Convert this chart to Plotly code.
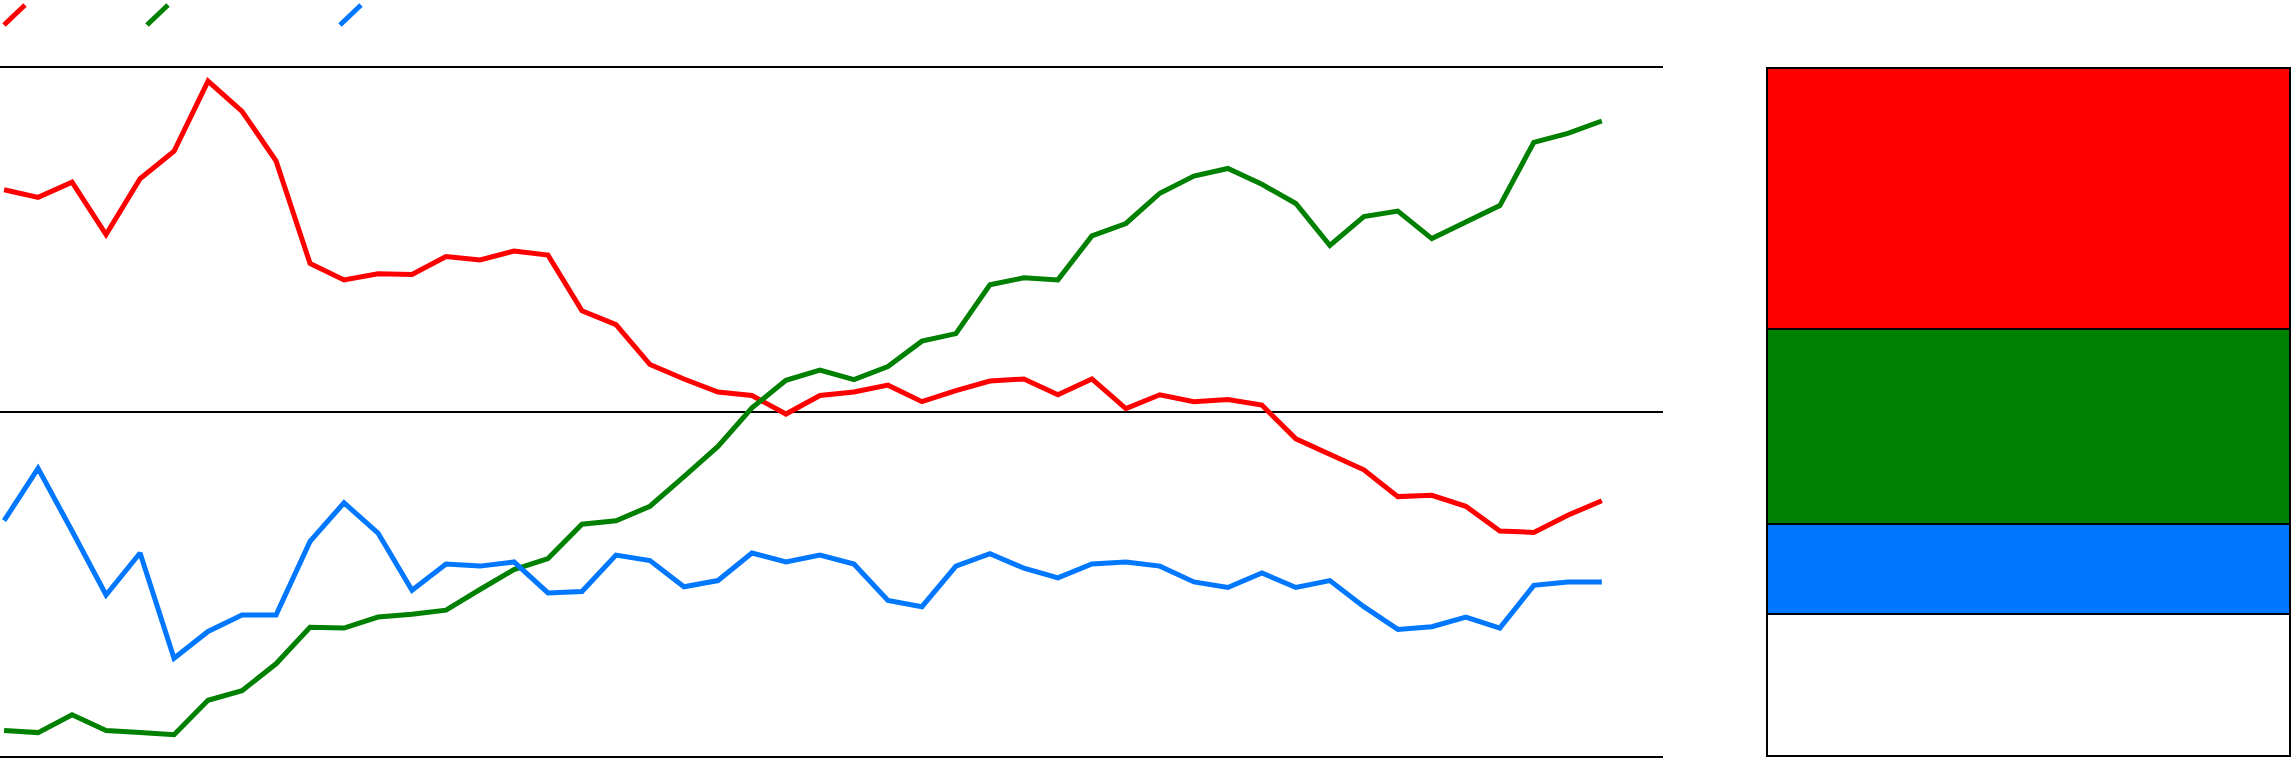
import plotly.graph_objects as go

# three series, one value per step (y scale 0-100)
steps = list(range(48))
red_values = [82.3, 81.2, 83.4, 75.8, 83.9, 87.9, 98.1, 93.7, 86.5, 71.6, 69.2, 70.1, 70.0,
              72.6, 72.1, 73.4, 72.8, 64.7, 62.7, 56.9, 54.8, 52.9, 52.4, 49.7, 52.4,
              52.9, 53.9, 51.5, 53.1, 54.5, 54.8, 52.5, 54.8, 50.5, 52.5, 51.5, 51.8, 51.0,
              46.1, 43.9, 41.6, 37.7, 37.9, 36.3, 32.7, 32.5, 35.0, 37.1]
green_values = [3.7, 3.4, 6.0, 3.7, 3.4, 3.1, 8.1, 9.5, 13.4, 18.7, 18.6, 20.2, 20.6,
                21.2, 24.2, 27.1, 28.7, 33.7, 34.2, 36.3, 40.6, 45.0, 50.6, 54.6, 56.1,
                54.7, 56.6, 60.3, 61.4, 68.5, 69.5, 69.2, 75.6, 77.4, 81.8, 84.3, 85.4, 83.1,
                80.3, 74.2, 78.4, 79.2, 75.2, 77.6, 80.0, 89.2, 90.5, 92.3]
blue_values = [34.2, 41.8, 32.7, 23.4, 29.5, 14.2, 18.1, 20.5, 20.5, 31.2, 36.8, 32.4, 24.1,
               27.9, 27.6, 28.2, 23.7, 23.9, 29.2, 28.4, 24.6, 25.5, 29.5, 28.2, 29.2,
               27.9, 22.6, 21.7, 27.6, 29.4, 27.3, 25.9, 27.9, 28.2, 27.6, 25.3, 24.5, 26.6,
               24.5, 25.5, 21.7, 18.4, 18.8, 20.2, 18.6, 24.8, 25.3, 25.3]

# stacked share bar, bottom to top
bar_names = ["rest", "blue", "green", "red"]
bar_shares = [20.6, 13.1, 28.4, 37.9]

RED = "#ff0000"
GREEN = "#008000"
BLUE = "#0077ff"
bar_colors = ["#ffffff", BLUE, GREEN, RED]

W, H = 2292, 758

fig = go.Figure()

for vals, col, name in [(red_values, RED, "red"), (green_values, GREEN, "green"),
                        (blue_values, BLUE, "blue")]:
    fig.add_trace(go.Scatter(x=steps, y=vals, mode="lines", name=name,
                             line=dict(color=col, width=5), showlegend=False,
                             xaxis="x", yaxis="y"))

for name, share, col in zip(bar_names, bar_shares, bar_colors):
    fig.add_trace(go.Bar(x=[0], y=[share], name=name, width=1,
                         marker=dict(color=col, line=dict(color="black", width=2)),
                         showlegend=False, xaxis="x2", yaxis="y2"))

# legend glyphs: short diagonal strokes at the top left, no text
legend_shapes = []
for col, x0 in [(RED, 4), (GREEN, 147), (BLUE, 340)]:
    legend_shapes.append(dict(type="line", xref="paper", yref="paper",
                              x0=x0 / W, x1=(x0 + 21) / W,
                              y0=1 - 25 / H, y1=1 - 5 / H,
                              line=dict(color=col, width=5)))

# plot area rows (axis lines are drawn just outside the domain)
top = 1 - 68 / H
bottom = 1 - 756 / H
px_per_unit = (756 - 68) / 100
pad_top, pad_bot = 4, 2  # room so the bar outline is not clipped

fig.update_layout(
    width=W, height=H,
    margin=dict(l=0, r=0, t=0, b=0),
    paper_bgcolor="white", plot_bgcolor="white",
    barmode="stack",
    shapes=legend_shapes,
    xaxis=dict(domain=[0, 1663 / W], range=[-0.12, 48.8], showgrid=False,
               zeroline=False, showticklabels=False, ticks="",
               showline=True, mirror=True, linecolor="black", linewidth=2),
    yaxis=dict(domain=[bottom, top], range=[0, 100], tickvals=[50],
               showgrid=True, gridcolor="black", gridwidth=2,
               zeroline=False, showticklabels=False, ticks="", showline=False),
    xaxis2=dict(domain=[1762 / W, 1.0], range=[-0.5 - 5 / 523, 0.5 + 2 / 523],
                anchor="y2", showgrid=False, zeroline=False,
                showticklabels=False, ticks="", showline=False),
    yaxis2=dict(domain=[0, top + pad_top / H],
                range=[-pad_bot / px_per_unit, 100 + pad_top / px_per_unit],
                anchor="x2", showgrid=False, zeroline=False,
                showticklabels=False, ticks="", showline=False),
)

# drop the default page margin so the figure sits at the window corner
fig.write_html("out.html", config={"displayModeBar": False},
               post_script="document.body.style.margin = '0';")
